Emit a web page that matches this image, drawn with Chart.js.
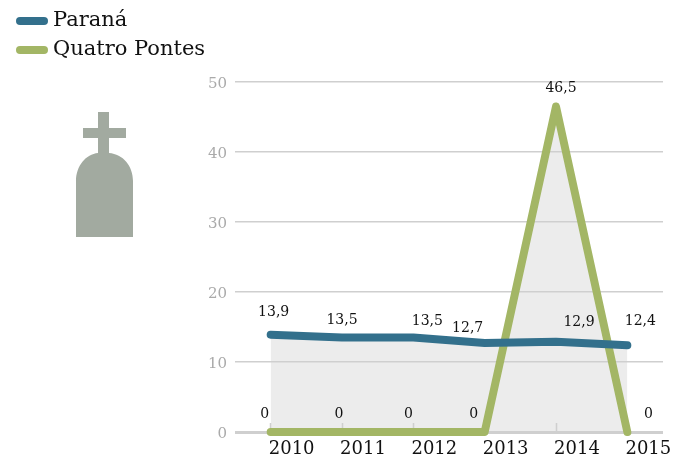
<!DOCTYPE html>
<html>
<head>
<meta charset="utf-8">
<style>
  body { margin: 0; background: #fff; }
  #wrap { position: relative; width: 680px; height: 455px; overflow: hidden; }
  #stone { position: absolute; left: 70px; top: 105px; }
</style>
<script src="https://cdn.jsdelivr.net/npm/chart.js@4"></script>
</head>
<body>
<div id="wrap">
  <canvas id="chart" width="680" height="455"></canvas>
  <svg id="stone" width="70" height="140" viewBox="70 105 70 140">
    <path fill="#a2aaa0" d="M98 112h11v16h17v10h-17v15c14 1 24 13 24 28v56h-57v-56c0-15 10-27 22-28v-15h-15v-10h15z"/>
  </svg>
</div>
<script>
const years = ["2010", "2011", "2012", "2013", "2014", "2015"];
const paranaValues = [13.9, 13.5, 13.5, 12.7, 12.9, 12.4];
const quatroValues = [0, 0, 0, 0, 46.5, 0];
const yTicks = [0, 10, 20, 30, 40, 50];

const serif = "'DejaVu Serif', serif";

// labels don't sit exactly over the points in the original, nudge them by hand
const paranaNudge = [[3, -22], [0, -17], [14, -16], [-17, -15], [23, -19], [13, -24]];
const quatroNudge = [[-6, -18], [-3, -18], [-5, -18], [-11, -18], [5, -18], [21, -18]];

const valueLabels = {
  id: "valueLabels",
  afterDatasetsDraw(chart) {
    const ctx = chart.ctx;
    const nudges = [paranaNudge, quatroNudge];
    ctx.save();
    ctx.font = "14px " + serif;
    ctx.fillStyle = "#111";
    ctx.textAlign = "center";
    ctx.textBaseline = "middle";
    chart.data.datasets.forEach((ds, i) => {
      chart.getDatasetMeta(i).data.forEach((pt, j) => {
        let txt = String(ds.data[j]).replace(".", ",");
        ctx.fillText(txt, pt.x + nudges[i][j][0], pt.y + nudges[i][j][1]);
      });
    });
    ctx.restore();
  }
};

// two stacked rows at top left, the built in legend won't stack like this
const stackedLegend = {
  id: "stackedLegend",
  afterDraw(chart) {
    const ctx = chart.ctx;
    ctx.save();
    ctx.font = "21px " + serif;
    ctx.textBaseline = "middle";
    chart.data.datasets.forEach((ds, i) => {
      let y = 21 + i * 29;
      ctx.fillStyle = ds.borderColor;
      ctx.beginPath();
      ctx.roundRect(16, y - 4, 32, 8, 4);
      ctx.fill();
      ctx.fillStyle = "#111";
      ctx.fillText(ds.label, 53, y);
    });
    ctx.restore();
  }
};

new Chart(document.getElementById("chart"), {
  type: "line",
  data: {
    labels: years,
    datasets: [
      {
        label: "Paraná",
        data: paranaValues,
        borderColor: "#33708c",
        backgroundColor: "#ececec",
        fill: "origin"
      },
      {
        label: "Quatro Pontes",
        data: quatroValues,
        borderColor: "#a3b665",
        backgroundColor: "#ececec",
        fill: "origin"
      }
    ]
  },
  options: {
    responsive: false,
    animation: false,
    layout: { padding: { left: 200, right: 17, top: 82, bottom: 0 } },
    elements: {
      line: { borderWidth: 8, tension: 0, borderCapStyle: "round", borderJoinStyle: "round" },
      point: { radius: 0 }
    },
    datasets: { line: { clip: false } },
    plugins: {
      legend: { display: false },
      tooltip: { enabled: false },
      filler: { drawTime: "beforeDraw" }
    },
    scales: {
      x: {
        offset: true,
        border: { display: false },
        grid: {
          drawOnChartArea: false,
          tickLength: -9,
          tickColor: "#cfcfcf",
          tickWidth: 1.5
        },
        ticks: {
          color: "#111",
          font: { family: serif, size: 18 },
          labelOffset: 21,
          padding: 16,
          autoSkip: false,
          maxRotation: 0
        },
        afterFit(scale) { scale.height = 23; }
      },
      y: {
        min: 0,
        max: 50,
        border: { display: false },
        afterBuildTicks(scale) { scale.ticks = yTicks.map(v => ({ value: v })); },
        grid: {
          color: "#cfcfcf",
          lineWidth: c => (c.tick.value === 0 ? 3 : 1.5),
          drawTicks: false
        },
        ticks: {
          color: "#aaaaaa",
          font: { family: serif, size: 15 },
          padding: 8,
          labelOffset: 2
        },
        afterFit(scale) { scale.width = 35; }
      }
    }
  },
  plugins: [valueLabels, stackedLegend]
});
</script>
</body>
</html>
